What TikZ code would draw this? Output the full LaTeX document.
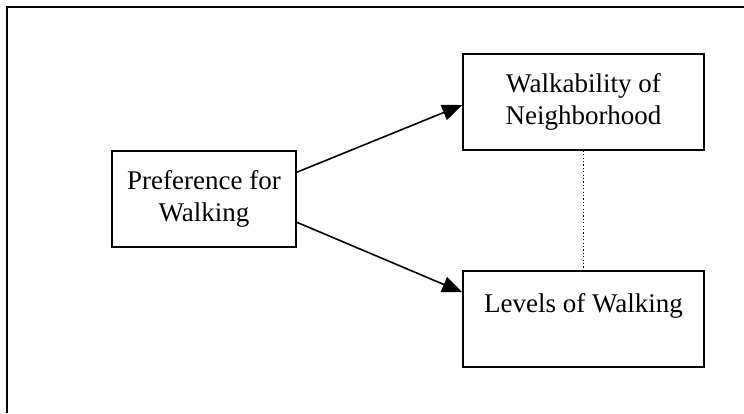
\documentclass[tikz,border=0pt]{standalone}
\usepackage{fontspec}
\setmainfont{Liberation Serif}
\usetikzlibrary{arrows.meta}
\begin{document}
\begin{tikzpicture}[x=1pt,y=-1pt,
  box/.style={draw=black,line width=1.5pt,rectangle,minimum width=#1,minimum height=96pt,
    align=center,font=\fontsize{27}{32}\selectfont,inner sep=0pt},
  arr/.style={line width=1.6pt,-{Triangle[length=20pt,width=16pt]}},
  dotline/.style={line width=1.3pt,dash pattern=on 1.2pt off 2.2pt}]
\useasboundingbox (0,0) rectangle (744,413);
\coordinate (ftr) at (744,7);
\coordinate (ftl) at (7,7);
\coordinate (fbl) at (7,413);
\draw[line width=2pt] (ftr) -- (ftl) -- (fbl);
\node[box=184pt] (pref) at (204,199) {Preference for\\Walking};
\node[box=241pt] (walk) at (583.5,102) {Walkability of\\Neighborhood};
\node[box=241pt] (lev) at (583.5,319) {Levels of Walking\\\mbox{}};
\draw[arr] ([yshift=-22pt]pref.north east) -- ([yshift=-3pt]walk.west);
\draw[arr] ([yshift=-72pt]pref.north east) -- ([yshift=-22pt]lev.north west);
\draw[dotline] (walk.south) -- (lev.north);
\end{tikzpicture}
\end{document}
